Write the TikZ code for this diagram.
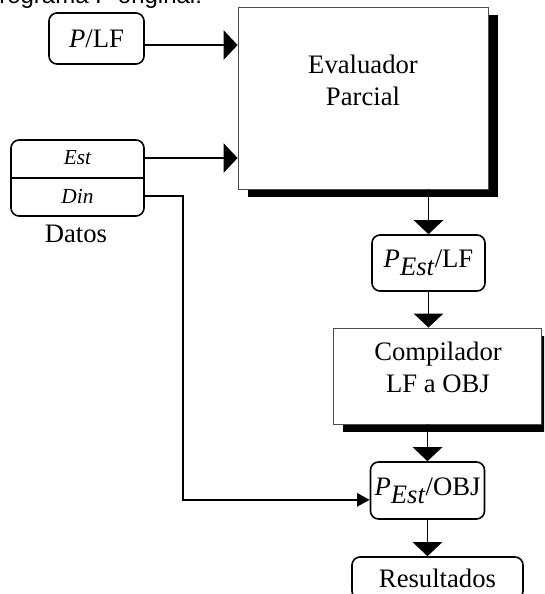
\documentclass[tikz,border=0pt]{standalone}
\usepackage{fontspec}
\setmainfont{Liberation Serif}
\newfontfamily\headfont{Liberation Sans}
\usetikzlibrary{arrows.meta, positioning, shadows}

\begin{document}
\begin{tikzpicture}[x=0.75pt, y=-0.75pt,
  txt/.style={font=\fontsize{20}{24}\selectfont, align=center},
  small/.style={font=\fontsize{16}{18}\selectfont\itshape},
  rbox/.style={draw, line width=1.2pt, rounded corners=6pt, fill=white,
    font=\fontsize{20}{24}\selectfont, inner sep=0pt},
  shbox/.style={draw=black!70, line width=0.6pt, fill=white,
    drop shadow={shadow xshift=7.5pt, shadow yshift=-5.8pt, fill=black, opacity=1}},
  conn/.style={line width=1.2pt},
  bigtip/.style={conn, -{Triangle[length=10.5pt, width=22pt]}},
  smalltip/.style={conn, -{Triangle[length=9.5pt, width=10pt]}}]
\useasboundingbox (0,0) rectangle (544,594);
\clip (0,0) rectangle (544,594);

% heading, cut by the top edge
\node[font=\headfont\fontsize{18}{20}\selectfont, anchor=base west, inner sep=0pt]
  (title) at (-17,3) {Programa P original:};

% inputs
\node[rbox, minimum width=71.25pt, minimum height=38.25pt] (plf) at (96.5,38.5)
  {\textit{P}/LF};
\node[rbox, minimum width=99.75pt, minimum height=57pt] (datos) at (77.5,178) {};
\draw[conn] (datos.west) -- (datos.east);
\node[small] (est) at (77.5,158) {Est};
\node[small] (din) at (77.5,196) {Din};
\node[txt] (datoslbl) at (76,234) {Datos};

% evaluator
\node[shbox, minimum width=187.5pt, minimum height=136.5pt] (eval) at (363,98) {};
\node[txt] (evaltxt) at (363,80) {Evaluador\\Parcial};

% chain
\node[rbox, minimum width=84.75pt, minimum height=42pt] (pestlf) at (428.5,263)
  {$\textit{P}_{\textit{Est}}$/LF};
\node[shbox, minimum width=156pt, minimum height=72pt] (comp) at (437,376) {};
\node[txt] (comptxt) at (438,367.5) {Compilador\\LF a OBJ};
\node[rbox, minimum width=85.5pt, minimum height=42.75pt] (pestobj) at (427.5,490.5)
  {$\textit{P}_{\textit{Est}}$/OBJ};
\node[rbox, minimum width=128.25pt, minimum height=31.5pt] (res) at (437.5,578)
  {Resultados};

% connectors
\coordinate (plfout) at ([yshift=-4.9pt]plf.east);
\coordinate (objin) at ([yshift=-7pt]pestobj.west);
\draw[bigtip] (plfout) -- (plfout -| eval.west);
\draw[bigtip] (est -| datos.east) -- (est -| eval.west);
\draw[smalltip] (din -| datos.east) -- ++(38,0) |- (objin);
\draw[bigtip] (pestlf.north |- eval.south) -- (pestlf.north);
\draw[bigtip] (pestlf.south) -- (pestlf.south |- comp.north);
\draw[bigtip] (pestobj.north |- comp.south) -- (pestobj.north);
\draw[bigtip] (pestobj.south) -- (pestobj.south |- res.north);
\end{tikzpicture}
\end{document}
